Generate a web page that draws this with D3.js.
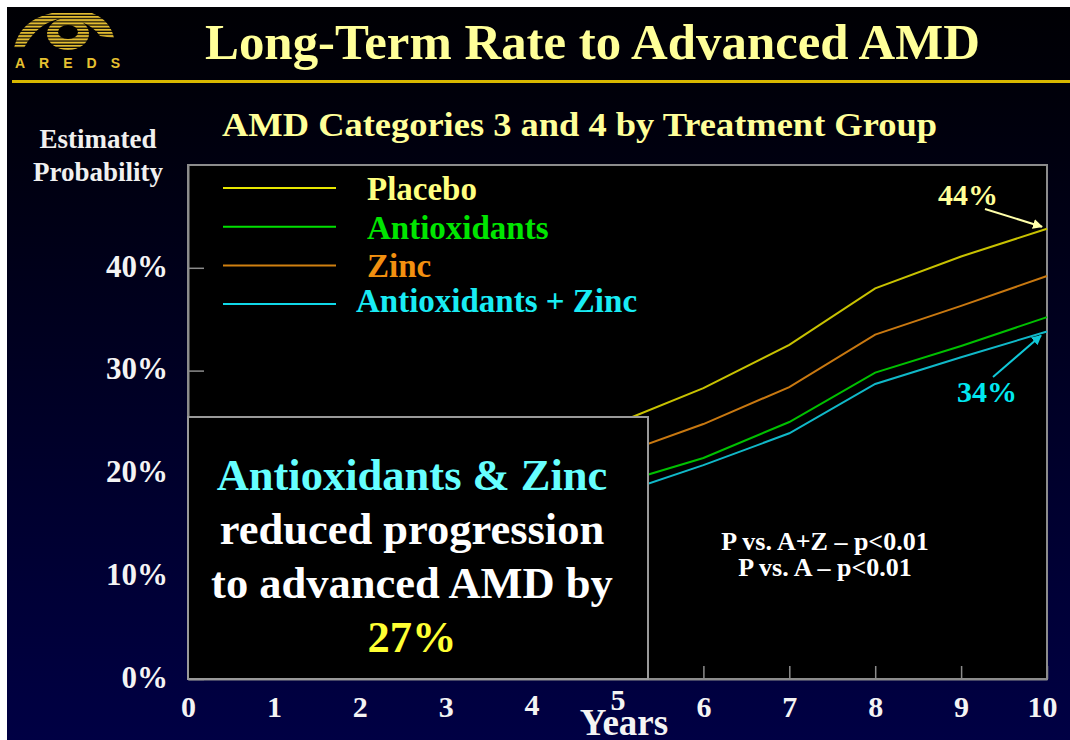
<!DOCTYPE html>
<html>
<head>
<meta charset="utf-8">
<script src="https://cdn.jsdelivr.net/npm/d3@7"></script>
<style>
  body { margin: 0; background: #fff; }
  svg text { font-family: "Liberation Serif", "Times New Roman", serif; font-weight: bold; }
</style>
</head>
<body>
<div id="chart"></div>
<script>
// data
const years = [0, 1, 2, 3, 4, 5, 6, 7, 8, 9, 10];
const placebo = [0, 6, 11, 16, 21, 24.9, 28.3, 32.5, 38, 41.1, 43.8];
const antioxidants = [0, 4.5, 8.5, 12.5, 16, 19, 21.5, 25, 29.8, 32.4, 35.2];
const zinc = [0, 5, 9.5, 14, 18, 21.8, 24.8, 28.4, 33.5, 36.3, 39.2];
const antioxZinc = [0, 4, 8, 12, 15.5, 18, 20.8, 23.9, 28.7, 31.3, 33.8];
const yTicks = [0, 10, 20, 30, 40];
const seriesNames = ["Placebo", "Antioxidants", "Zinc", "Antioxidants + Zinc"];
const boxLines = ["Antioxidants & Zinc", "reduced progression", "to advanced AMD by", "27%"];
const pLines = ["P vs. A+Z \u2013 p<0.01", "P vs. A \u2013 p<0.01"];

// set dimensions
const width = 1070,
    height = 740,
    margin = { top: 165, right: 23, bottom: 61, left: 188 };

const svg = d3.select("#chart")
    .append("svg")
    .attr("width", width)
    .attr("height", height);

const defs = svg.append("defs");

// background gradient
const grad = defs.append("linearGradient")
    .attr("id", "bg")
    .attr("x1", 0).attr("y1", 0).attr("x2", 0).attr("y2", 1);
grad.append("stop").attr("offset", "0%").attr("stop-color", "#000004");
grad.append("stop").attr("offset", "12%").attr("stop-color", "#00000a");
grad.append("stop").attr("offset", "100%").attr("stop-color", "#000044");

svg.append("rect")
    .attr("x", 7).attr("y", 7)
    .attr("width", width - 7).attr("height", height - 7)
    .attr("fill", "url(#bg)");

// yellow rule under title
svg.append("rect")
    .attr("x", 12).attr("y", 80)
    .attr("width", width - 12).attr("height", 3)
    .attr("fill", "#d8b800");

// logo
const stripes = defs.append("pattern")
    .attr("id", "stripes")
    .attr("patternUnits", "userSpaceOnUse")
    .attr("width", 4).attr("height", 3.2);
stripes.append("rect").attr("width", 4).attr("height", 2).attr("fill", "#e2bc30");

const clip = defs.append("clipPath").attr("id", "eye");
clip.append("path").attr("d", "M14,48 Q20,20 52,13 L92,13 Q110,20 114,38 L100,36 Q92,24 70,18 Q40,18 24,48 Z");
clip.append("ellipse").attr("cx", 68).attr("cy", 34).attr("rx", 21).attr("ry", 16);

const logo = svg.append("g");
logo.append("rect")
    .attr("x", 10).attr("y", 12).attr("width", 110).attr("height", 40)
    .attr("fill", "url(#stripes)")
    .attr("clip-path", "url(#eye)");
logo.append("ellipse")
    .attr("cx", 68).attr("cy", 32).attr("rx", 10).attr("ry", 7)
    .attr("fill", "#000");
logo.append("text")
    .attr("x", 15).attr("y", 68)
    .attr("font-size", 14)
    .attr("letter-spacing", 14)
    .style("font-family", "'Liberation Sans', Arial, sans-serif")
    .attr("fill", "#e6c030")
    .text("AREDS");

// titles
svg.append("text")
    .attr("x", 205).attr("y", 59)
    .attr("font-size", 50)
    .attr("textLength", 775)
    .attr("lengthAdjust", "spacingAndGlyphs")
    .attr("fill", "#ffff99")
    .text("Long-Term Rate to Advanced AMD");

svg.append("text")
    .attr("x", 222).attr("y", 136)
    .attr("font-size", 33)
    .attr("textLength", 715)
    .attr("lengthAdjust", "spacingAndGlyphs")
    .attr("fill", "#ffff99")
    .text("AMD Categories 3 and 4 by Treatment Group");

// scales
const xScale = d3.scaleLinear()
    .domain([0, 10])
    .range([margin.left, width - margin.right]);

const yScale = d3.scaleLinear()
    .domain([0, 50])
    .range([height - margin.bottom, margin.top]);

// plot frame
svg.append("rect")
    .attr("x", xScale(0)).attr("y", yScale(50))
    .attr("width", xScale(10) - xScale(0))
    .attr("height", yScale(0) - yScale(50))
    .attr("fill", "#000")
    .attr("stroke", "#8c8c8c")
    .attr("stroke-width", 2);

// axes
const xAxis = d3.axisBottom(xScale)
    .tickValues(years)
    .tickFormat(d3.format("d"))
    .tickSizeInner(-13)
    .tickSizeOuter(0)
    .tickPadding(17);

const yAxis = d3.axisLeft(yScale)
    .tickValues(yTicks)
    .tickFormat(d => d + "%")
    .tickSizeInner(-16)
    .tickSizeOuter(0)
    .tickPadding(20);

const gx = svg.append("g")
    .attr("transform", "translate(0," + yScale(0) + ")")
    .call(xAxis);

const gy = svg.append("g")
    .attr("transform", "translate(" + xScale(0) + ",0)")
    .call(yAxis);

[gx, gy].forEach(g => {
    g.select(".domain").attr("stroke", "#8c8c8c").attr("stroke-width", 2);
    g.selectAll(".tick line").attr("stroke", "#8c8c8c").attr("stroke-width", 1.5);
    g.selectAll("text")
        .attr("fill", "#f4f4f4")
        .attr("font-family", null)
        .style("font-family", "'Liberation Serif', 'Times New Roman', serif")
        .style("font-weight", "bold");
});
gx.selectAll("text")
    .attr("font-size", 30)
    // "4" and "5" sit a little higher on the slide, clear of "Years"
    .attr("y", d => d === 5 ? 10 : d === 4 ? 15 : 17)
    .attr("dx", d => d === 10 ? -5 : 0);
gy.selectAll("text").attr("font-size", 31).attr("dy", "0.27em");

// axis titles
svg.append("text")
    .attr("x", 98).attr("y", 148)
    .attr("text-anchor", "middle")
    .attr("font-size", 27)
    .attr("fill", "#f0f0f0")
    .text("Estimated");
svg.append("text")
    .attr("x", 98).attr("y", 181)
    .attr("text-anchor", "middle")
    .attr("font-size", 27)
    .attr("fill", "#f0f0f0")
    .text("Probability");

// series
const series = [
    { name: seriesNames[0], values: placebo, line: "#c8c200", key: "#e6e600", text: "#ffff80" },
    { name: seriesNames[1], values: antioxidants, line: "#00c000", key: "#00e000", text: "#00e600" },
    { name: seriesNames[2], values: zinc, line: "#c87810", key: "#d08010", text: "#f29010" },
    { name: seriesNames[3], values: antioxZinc, line: "#10b8c8", key: "#10d8e8", text: "#19ecf4" }
];

const line = d3.line()
    .x((d, i) => xScale(years[i]))
    .y(d => yScale(d));

svg.selectAll(".series")
    .data(series)
    .enter()
    .append("path")
    .attr("class", "series")
    .attr("d", d => line(d.values))
    .attr("fill", "none")
    .attr("stroke", d => d.line)
    .attr("stroke-width", 2);

// legend
const legend = svg.selectAll(".legend")
    .data(series)
    .enter()
    .append("g")
    .attr("class", "legend")
    .attr("transform", (d, i) => `translate(0,${188 + i * 38.7})`);

legend.append("line")
    .attr("x1", 223).attr("x2", 336)
    .attr("stroke", d => d.key)
    .attr("stroke-width", 2);

legend.append("text")
    .attr("x", (d, i) => i === 3 ? 356 : 367)
    .attr("y", (d, i) => i === 3 ? 8 : 12)
    .attr("font-size", 33)
    .attr("fill", d => d.text)
    .text(d => d.name);

// end annotations with arrows
function marker(id, color) {
    defs.append("marker")
        .attr("id", id)
        .attr("viewBox", "0 0 10 10")
        .attr("refX", 9).attr("refY", 5)
        .attr("markerWidth", 5).attr("markerHeight", 5)
        .attr("orient", "auto")
        .append("path")
        .attr("d", "M0,0 L10,5 L0,10 Z")
        .attr("fill", color);
}
marker("arrowY", "#ffffaa");
marker("arrowC", "#10c8d8");

svg.append("text")
    .attr("x", 968).attr("y", 205)
    .attr("text-anchor", "middle")
    .attr("font-size", 30)
    .attr("fill", "#ffff99")
    .text(placebo[placebo.length - 1].toFixed(0) + "%");
svg.append("line")
    .attr("x1", 985).attr("y1", 209)
    .attr("x2", xScale(10) - 5).attr("y2", yScale(placebo[10]) - 2)
    .attr("stroke", "#ffffaa")
    .attr("stroke-width", 2)
    .attr("marker-end", "url(#arrowY)");

svg.append("text")
    .attr("x", 987).attr("y", 402)
    .attr("text-anchor", "middle")
    .attr("font-size", 30)
    .attr("fill", "#00e8f0")
    .text(antioxZinc[antioxZinc.length - 1].toFixed(0) + "%");
svg.append("line")
    .attr("x1", 993).attr("y1", 377)
    .attr("x2", xScale(10) - 6).attr("y2", yScale(antioxZinc[10]) + 4)
    .attr("stroke", "#10c8d8")
    .attr("stroke-width", 2)
    .attr("marker-end", "url(#arrowC)");

// message box
svg.append("rect")
    .attr("x", xScale(0)).attr("y", 417)
    .attr("width", 460).attr("height", yScale(0) - 417)
    .attr("fill", "#000")
    .attr("stroke", "#9a9a9a")
    .attr("stroke-width", 2);

const boxColors = ["#66ffff", "#ffffff", "#ffffff", "#ffff33"];
svg.selectAll(".boxline")
    .data(boxLines)
    .enter()
    .append("text")
    .attr("class", "boxline")
    .attr("x", 412)
    .attr("y", (d, i) => 490 + i * 54)
    .attr("text-anchor", "middle")
    .attr("font-size", 44.5)
    .attr("fill", (d, i) => boxColors[i])
    .text(d => d);

// p-values
svg.selectAll(".pline")
    .data(pLines)
    .enter()
    .append("text")
    .attr("class", "pline")
    .attr("x", 825)
    .attr("y", (d, i) => 550 + i * 26)
    .attr("text-anchor", "middle")
    .attr("font-size", 26)
    .attr("fill", "#ffffff")
    .text(d => d);

// x axis title
svg.append("text")
    .attr("x", 624).attr("y", 735)
    .attr("text-anchor", "middle")
    .attr("font-size", 37)
    .attr("fill", "#f4f4f4")
    .text("Years");
</script>
</body>
</html>
